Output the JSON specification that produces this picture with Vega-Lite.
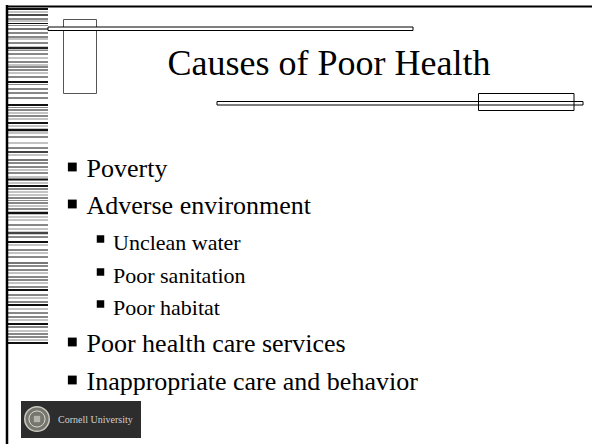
{
  "$schema": "https://vega.github.io/schema/vega-lite/v6.json",
  "width": 592,
  "height": 444,
  "autosize": {"type": "none"},
  "padding": 0,
  "background": "white",
  "config": {"view": {"stroke": null}, "axis": {"disable": true}},
  "datasets": {
    "stripes": [
      {"y": 9, "w": 2, "c": "#111"}, {"y": 12, "w": 1, "c": "#888"}, {"y": 15, "w": 1.5, "c": "#111"},
      {"y": 19, "w": 1, "c": "#111"}, {"y": 21, "w": 1, "c": "#888"}, {"y": 23.5, "w": 1, "c": "#111"},
      {"y": 25.5, "w": 1, "c": "#888"}, {"y": 29, "w": 2, "c": "#777"}, {"y": 33, "w": 1, "c": "#111"},
      {"y": 37, "w": 1, "c": "#111"}, {"y": 39, "w": 1, "c": "#888"}, {"y": 43, "w": 1, "c": "#111"},
      {"y": 48, "w": 2.5, "c": "#222"}, {"y": 50.5, "w": 1, "c": "#888"}, {"y": 54, "w": 1, "c": "#111"},
      {"y": 58, "w": 1, "c": "#888"}, {"y": 62, "w": 1, "c": "#111"}, {"y": 65, "w": 1, "c": "#888"},
      {"y": 67, "w": 1, "c": "#111"}, {"y": 70, "w": 1, "c": "#111"}, {"y": 73, "w": 1, "c": "#888"},
      {"y": 77, "w": 1, "c": "#111"}, {"y": 82, "w": 2, "c": "#111"}, {"y": 84.5, "w": 1, "c": "#888"},
      {"y": 89, "w": 1, "c": "#111"}, {"y": 93, "w": 1, "c": "#111"}, {"y": 98, "w": 1, "c": "#111"},
      {"y": 105, "w": 2, "c": "#111"}, {"y": 107.5, "w": 1, "c": "#888"}, {"y": 110, "w": 1, "c": "#111"},
      {"y": 113, "w": 1, "c": "#888"}, {"y": 116, "w": 1, "c": "#111"}, {"y": 119, "w": 1, "c": "#888"},
      {"y": 123, "w": 2, "c": "#111"}, {"y": 126, "w": 1, "c": "#888"}, {"y": 130, "w": 2.5, "c": "#111"},
      {"y": 133, "w": 1, "c": "#888"}, {"y": 137, "w": 1, "c": "#111"}, {"y": 143, "w": 1, "c": "#888"},
      {"y": 148, "w": 1, "c": "#111"}, {"y": 152, "w": 2, "c": "#444"}, {"y": 155, "w": 1, "c": "#888"},
      {"y": 160, "w": 2, "c": "#777"}, {"y": 163, "w": 1, "c": "#111"}, {"y": 167, "w": 1, "c": "#111"},
      {"y": 170, "w": 1, "c": "#888"}, {"y": 173, "w": 1, "c": "#111"}, {"y": 177, "w": 1, "c": "#888"},
      {"y": 179.5, "w": 2, "c": "#111"}, {"y": 183, "w": 1, "c": "#888"}, {"y": 186, "w": 2, "c": "#111"},
      {"y": 189, "w": 1, "c": "#111"}, {"y": 192, "w": 1, "c": "#888"}, {"y": 195, "w": 1, "c": "#888"},
      {"y": 198, "w": 1, "c": "#111"}, {"y": 200.5, "w": 1, "c": "#888"}, {"y": 203, "w": 1, "c": "#111"},
      {"y": 206, "w": 1, "c": "#888"}, {"y": 209, "w": 1, "c": "#111"}, {"y": 213, "w": 2.5, "c": "#111"},
      {"y": 217, "w": 1, "c": "#888"}, {"y": 220, "w": 1, "c": "#888"}, {"y": 225, "w": 1, "c": "#111"},
      {"y": 229, "w": 1, "c": "#888"}, {"y": 233, "w": 2.5, "c": "#444"}, {"y": 237, "w": 1, "c": "#111"},
      {"y": 242, "w": 2, "c": "#111"}, {"y": 245, "w": 1, "c": "#888"}, {"y": 250, "w": 1, "c": "#111"},
      {"y": 253, "w": 1, "c": "#888"}, {"y": 257, "w": 1, "c": "#111"}, {"y": 263, "w": 2, "c": "#777"},
      {"y": 266, "w": 1, "c": "#111"}, {"y": 270, "w": 1, "c": "#111"}, {"y": 273, "w": 1, "c": "#888"},
      {"y": 277, "w": 1, "c": "#111"}, {"y": 280, "w": 1, "c": "#111"}, {"y": 283, "w": 1, "c": "#888"},
      {"y": 287, "w": 1, "c": "#111"}, {"y": 290, "w": 2, "c": "#111"}, {"y": 295, "w": 1, "c": "#111"},
      {"y": 298, "w": 1, "c": "#888"}, {"y": 302, "w": 1, "c": "#111"}, {"y": 305, "w": 2, "c": "#111"},
      {"y": 309, "w": 1, "c": "#888"}, {"y": 313, "w": 1, "c": "#111"}, {"y": 317, "w": 1, "c": "#111"},
      {"y": 320, "w": 1, "c": "#888"}, {"y": 324, "w": 2, "c": "#111"}, {"y": 327, "w": 1, "c": "#111"},
      {"y": 331, "w": 1, "c": "#888"}, {"y": 334, "w": 1, "c": "#111"}, {"y": 337, "w": 1, "c": "#111"},
      {"y": 340, "w": 1, "c": "#888"}, {"y": 343, "w": 2, "c": "#111"}
    ],
    "bullets": [
      {"label": "Poverty", "level": 1, "y": 177},
      {"label": "Adverse environment", "level": 1, "y": 214},
      {"label": "Unclean water", "level": 2, "y": 250},
      {"label": "Poor sanitation", "level": 2, "y": 283},
      {"label": "Poor habitat", "level": 2, "y": 315},
      {"label": "Poor health care services", "level": 1, "y": 352},
      {"label": "Inappropriate care and behavior", "level": 1, "y": 390}
    ]
  },
  "data": {"name": "bullets"},
  "encoding": {
    "x": {"type": "quantitative", "scale": {"domain": [0, 592], "nice": false, "zero": false}},
    "y": {"type": "quantitative", "scale": {"domain": [0, 444], "nice": false, "zero": false, "reverse": true}}
  },
  "layer": [
    {
      "data": {"name": "stripes"},
      "mark": {"type": "rule"},
      "encoding": {
        "y": {"field": "y", "type": "quantitative"},
        "x": {"datum": 8},
        "x2": {"datum": 48},
        "strokeWidth": {"field": "w", "type": "quantitative", "scale": null},
        "color": {"field": "c", "type": "nominal", "scale": null}
      }
    },
    {
      "data": {"values": [{}]},
      "mark": {"type": "rule", "color": "#000", "strokeWidth": 2.5},
      "encoding": {"x": {"datum": 7}, "y": {"datum": 5}, "y2": {"datum": 444}}
    },
    {
      "data": {"values": [{}]},
      "mark": {"type": "rule", "color": "#000", "strokeWidth": 2},
      "encoding": {"x": {"datum": 6}, "x2": {"datum": 592}, "y": {"datum": 6.5}}
    },
    {
      "data": {"values": [{}]},
      "mark": {"type": "rect", "fill": null, "stroke": "#555", "strokeWidth": 1},
      "encoding": {"x": {"datum": 63.5}, "x2": {"datum": 96.5}, "y": {"datum": 19.5}, "y2": {"datum": 93.5}}
    },
    {
      "data": {"values": [{}]},
      "mark": {"type": "rect", "fill": "white", "stroke": "#000", "strokeWidth": 1},
      "encoding": {"x": {"datum": 48}, "x2": {"datum": 413}, "y": {"datum": 27}, "y2": {"datum": 30.5}}
    },
    {
      "data": {"values": [{}]},
      "mark": {"type": "rect", "fill": "white", "stroke": "#000", "strokeWidth": 1},
      "encoding": {"x": {"datum": 217}, "x2": {"datum": 583}, "y": {"datum": 101.5}, "y2": {"datum": 105}}
    },
    {
      "data": {"values": [{}]},
      "mark": {"type": "rect", "fill": null, "stroke": "#000", "strokeWidth": 1},
      "encoding": {"x": {"datum": 478.5}, "x2": {"datum": 574}, "y": {"datum": 93.5}, "y2": {"datum": 110.5}}
    },
    {
      "data": {"values": [{"t": "Causes of Poor Health"}]},
      "mark": {"type": "text", "font": "Liberation Serif", "fontSize": 36, "align": "center", "baseline": "alphabetic", "color": "#000"},
      "encoding": {"x": {"datum": 329}, "y": {"datum": 75}, "text": {"field": "t"}}
    },
    {
      "transform": [{"filter": "datum.level == 1"}],
      "mark": {"type": "point", "shape": "square", "filled": true, "color": "#000", "opacity": 1, "size": 78, "yOffset": -10},
      "encoding": {"x": {"datum": 72.3}, "y": {"field": "y", "type": "quantitative"}}
    },
    {
      "transform": [{"filter": "datum.level == 2"}],
      "mark": {"type": "point", "shape": "square", "filled": true, "color": "#000", "opacity": 1, "size": 56, "yOffset": -11},
      "encoding": {"x": {"datum": 100.5}, "y": {"field": "y", "type": "quantitative"}}
    },
    {
      "transform": [{"filter": "datum.level == 1"}],
      "mark": {"type": "text", "font": "Liberation Serif", "fontSize": 26, "align": "left", "baseline": "alphabetic", "color": "#000"},
      "encoding": {"x": {"datum": 86.5}, "y": {"field": "y", "type": "quantitative"}, "text": {"field": "label"}}
    },
    {
      "transform": [{"filter": "datum.level == 2"}],
      "mark": {"type": "text", "font": "Liberation Serif", "fontSize": 22, "align": "left", "baseline": "alphabetic", "color": "#000"},
      "encoding": {"x": {"datum": 113}, "y": {"field": "y", "type": "quantitative"}, "text": {"field": "label"}}
    },
    {
      "data": {"values": [{}]},
      "mark": {"type": "rect", "fill": "#2d2d2d", "stroke": null},
      "encoding": {"x": {"datum": 21}, "x2": {"datum": 141}, "y": {"datum": 401}, "y2": {"datum": 438}}
    },
    {
      "data": {"values": [{}]},
      "mark": {"type": "point", "shape": "circle", "filled": true, "fill": "#77766e", "stroke": "#c8c8c0", "strokeWidth": 1.5, "opacity": 1, "size": 600},
      "encoding": {"x": {"datum": 37}, "y": {"datum": 419}}
    },
    {
      "data": {"values": [{}]},
      "mark": {"type": "point", "shape": "circle", "filled": false, "stroke": "#d8d8d0", "strokeWidth": 1, "opacity": 1, "size": 260},
      "encoding": {"x": {"datum": 37}, "y": {"datum": 419}}
    },
    {
      "data": {"values": [{}]},
      "mark": {"type": "point", "shape": "square", "filled": true, "fill": "#b5b4aa", "opacity": 1, "size": 40},
      "encoding": {"x": {"datum": 37}, "y": {"datum": 419}}
    },
    {
      "data": {"values": [{"t": "Cornell University"}]},
      "mark": {"type": "text", "font": "Liberation Serif", "fontSize": 10, "align": "left", "baseline": "alphabetic", "color": "#d0d0d0"},
      "encoding": {"x": {"datum": 58}, "y": {"datum": 423}, "text": {"field": "t"}}
    }
  ]
}
